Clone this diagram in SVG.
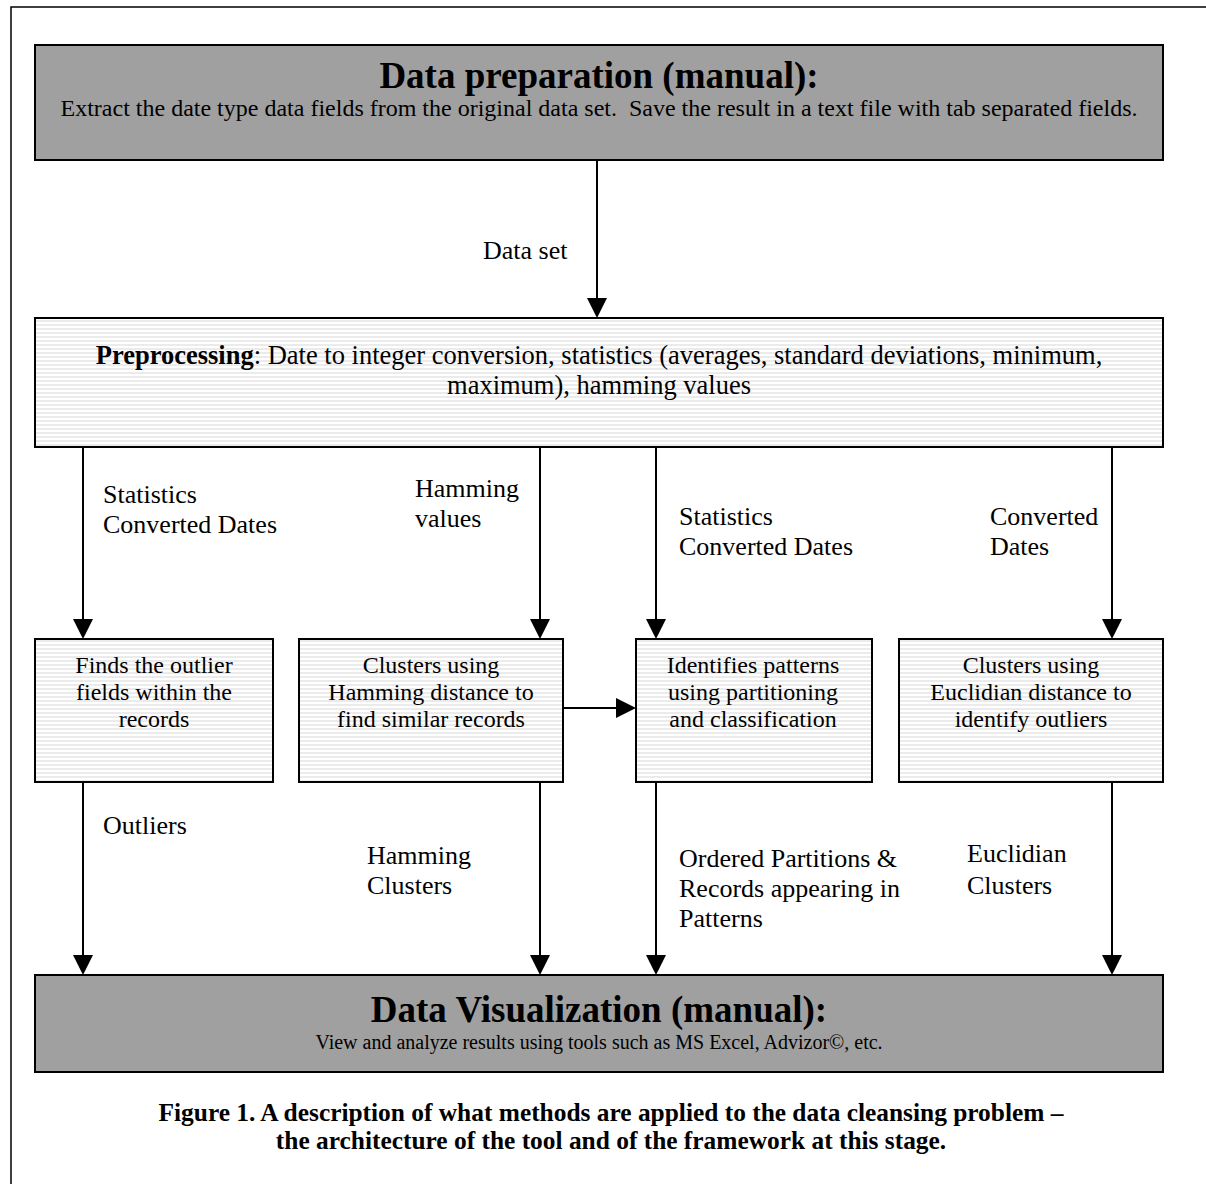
<svg xmlns="http://www.w3.org/2000/svg" width="1206" height="1184" viewBox="0 0 1206 1184">
<defs>
<pattern id="stripes" width="8" height="4" patternUnits="userSpaceOnUse">
<rect width="8" height="4" fill="#ffffff"/>
<rect y="0" width="8" height="2" fill="#ebebeb"/>
</pattern>
</defs>
<style>
text{font-family:"Liberation Serif","Times New Roman",serif;fill:#000}
.t{font-size:26px}
.p{font-size:26.5px;text-anchor:middle}
.b{font-size:24px;text-anchor:middle}
.c{text-anchor:middle}
.h{font-size:37px;font-weight:bold;text-anchor:middle}
.cap{font-size:25.4px;font-weight:bold;text-anchor:middle}
.gray{fill:#a0a0a0;stroke:#000;stroke-width:2}
.str{fill:url(#stripes);stroke:#000;stroke-width:2}
.ln{stroke:#000;stroke-width:2;fill:none}
.ah{fill:#000}
</style>
<rect x="11" y="7" width="1210" height="1200" fill="none" stroke="#000" stroke-width="1.5"/>

<g id="prep">
<rect class="gray" x="35" y="45" width="1128" height="115"/>
<text class="h" x="599" y="88">Data preparation (manual):</text>
<text class="b" x="599" y="116" xml:space="preserve">Extract the date type data fields from the original data set.  Save the result in a text file with tab separated fields.</text>
</g>

<g id="preproc">
<rect class="str" x="35" y="318" width="1128" height="129"/>
<text class="p" x="599" y="364"><tspan font-weight="bold">Preprocessing</tspan>: Date to integer conversion, statistics (averages, standard deviations, minimum,</text>
<text class="p" x="599" y="394">maximum), hamming values</text>
</g>

<g id="outlier">
<rect class="str" x="35" y="639" width="238" height="143"/>
<text class="b" x="154" y="673">Finds the outlier</text>
<text class="b" x="154" y="700">fields within the</text>
<text class="b" x="154" y="727">records</text>
</g>

<g id="hamming">
<rect class="str" x="299" y="639" width="264" height="143"/>
<text class="b" x="431" y="673">Clusters using</text>
<text class="b" x="431" y="700">Hamming distance to</text>
<text class="b" x="431" y="727">find similar records</text>
</g>

<g id="patterns">
<rect class="str" x="636" y="639" width="236" height="143"/>
<text class="b" x="753" y="673">Identifies patterns</text>
<text class="b" x="753" y="700">using partitioning</text>
<text class="b" x="753" y="727">and classification</text>
</g>

<g id="euclid">
<rect class="str" x="899" y="639" width="264" height="143"/>
<text class="b" x="1031" y="673">Clusters using</text>
<text class="b" x="1031" y="700">Euclidian distance to</text>
<text class="b" x="1031" y="727">identify outliers</text>
</g>

<g id="viz">
<rect class="gray" x="35" y="975" width="1128" height="97"/>
<text class="h" x="599" y="1022">Data Visualization (manual):</text>
<text class="c" x="599" y="1049" font-size="20">View and analyze results using tools such as MS Excel, Advizor©, etc.</text>
</g>

<g id="connectors">
<line class="ln" x1="597" y1="160" x2="597" y2="300"/>
<path class="ah" d="M587,298 L607,298 L597,318 z"/>
<line class="ln" x1="83" y1="447" x2="83" y2="621"/>
<path class="ah" d="M73,619 L93,619 L83,639 z"/>
<line class="ln" x1="540" y1="447" x2="540" y2="621"/>
<path class="ah" d="M530,619 L550,619 L540,639 z"/>
<line class="ln" x1="656" y1="447" x2="656" y2="621"/>
<path class="ah" d="M646,619 L666,619 L656,639 z"/>
<line class="ln" x1="1112" y1="447" x2="1112" y2="621"/>
<path class="ah" d="M1102,619 L1122,619 L1112,639 z"/>
<line class="ln" x1="563" y1="708" x2="618" y2="708"/>
<path class="ah" d="M616,698 L616,718 L636,708 z"/>
<line class="ln" x1="83" y1="782" x2="83" y2="957"/>
<path class="ah" d="M73,955 L93,955 L83,975 z"/>
<line class="ln" x1="540" y1="782" x2="540" y2="957"/>
<path class="ah" d="M530,955 L550,955 L540,975 z"/>
<line class="ln" x1="656" y1="782" x2="656" y2="957"/>
<path class="ah" d="M646,955 L666,955 L656,975 z"/>
<line class="ln" x1="1112" y1="782" x2="1112" y2="957"/>
<path class="ah" d="M1102,955 L1122,955 L1112,975 z"/>
<text class="t" x="483" y="259">Data set</text>
<text class="t" x="103" y="503">Statistics</text>
<text class="t" x="103" y="533">Converted Dates</text>
<text class="t" x="415" y="497">Hamming</text>
<text class="t" x="415" y="527">values</text>
<text class="t" x="679" y="525">Statistics</text>
<text class="t" x="679" y="555">Converted Dates</text>
<text class="t" x="990" y="525">Converted</text>
<text class="t" x="990" y="555">Dates</text>
<text class="t" x="103" y="834">Outliers</text>
<text class="t" x="367" y="864">Hamming</text>
<text class="t" x="367" y="894">Clusters</text>
<text class="t" x="679" y="867">Ordered Partitions &amp;</text>
<text class="t" x="679" y="897">Records appearing in</text>
<text class="t" x="679" y="927">Patterns</text>
<text class="t" x="967" y="862">Euclidian</text>
<text class="t" x="967" y="894">Clusters</text>
</g>

<text class="cap" x="611" y="1121">Figure 1. A description of what methods are applied to the data cleansing problem –</text>
<text class="cap" x="611" y="1149">the architecture of the tool and of the framework at this stage.</text>
</svg>
